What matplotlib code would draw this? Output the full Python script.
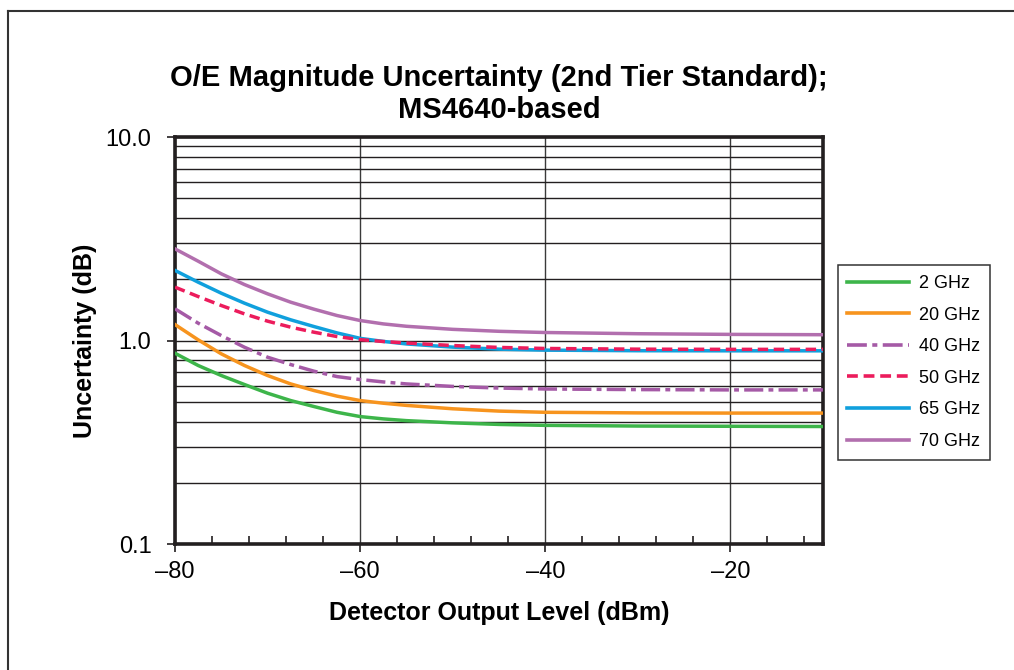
import matplotlib
matplotlib.use("Agg")
import matplotlib.pyplot as plt
from matplotlib.lines import Line2D
from matplotlib.ticker import LogLocator, NullFormatter, MultipleLocator

plt.rcParams["font.family"] = ["Liberation Sans", "DejaVu Sans"]

# Detector output level (dBm)
level = [-80, -77.5, -75, -72.5, -70, -67.5, -65, -62.5, -60, -57.5,
         -55, -50, -45, -40, -30, -20, -10]

# Uncertainty (dB)
u_2ghz = [0.866, 0.754, 0.673, 0.608, 0.551, 0.507, 0.474, 0.444, 0.423, 0.412,
          0.404, 0.394, 0.387, 0.383, 0.380, 0.379, 0.378]
u_20ghz = [1.198, 1.008, 0.860, 0.754, 0.673, 0.612, 0.568, 0.533, 0.507, 0.492,
           0.480, 0.462, 0.450, 0.444, 0.441, 0.440, 0.440]
u_40ghz = [1.431, 1.217, 1.058, 0.927, 0.828, 0.762, 0.707, 0.665, 0.643, 0.626,
           0.612, 0.595, 0.584, 0.578, 0.574, 0.572, 0.572]
u_50ghz = [1.829, 1.645, 1.486, 1.352, 1.245, 1.163, 1.099, 1.046, 1.010, 0.989,
           0.972, 0.945, 0.925, 0.914, 0.907, 0.905, 0.905]
u_65ghz = [2.21, 1.935, 1.708, 1.526, 1.378, 1.264, 1.172, 1.090, 1.025, 0.990,
           0.962, 0.928, 0.907, 0.897, 0.891, 0.890, 0.890]
u_70ghz = [2.82, 2.454, 2.127, 1.884, 1.696, 1.543, 1.426, 1.327, 1.254, 1.207,
           1.175, 1.135, 1.110, 1.095, 1.080, 1.072, 1.068]

labels = ["2 GHz", "20 GHz", "40 GHz", "50 GHz", "65 GHz", "70 GHz"]
x_ticks = [-80, -60, -40, -20]
x_tick_labels = ["\u201380", "\u201360", "\u201340", "\u201320"]
y_ticks = [0.1, 1.0, 10.0]
y_tick_labels = ["0.1", "1.0", "10.0"]

fig = plt.figure(figsize=(10.14, 6.70), dpi=100)
ax = fig.add_axes([0.1726, 0.188, 0.639, 0.6075])

lw = 2.5
kw = dict(lw=lw, solid_joinstyle="round", dash_joinstyle="round")
ax.plot(level, u_2ghz, color="#3DB54A", label=labels[0], zorder=3, **kw)
ax.plot(level, u_20ghz, color="#F7941E", label=labels[1], zorder=3, **kw)
ax.plot(level, u_40ghz, color="#A55AA6", ls=(0, (5.5, 1.5, 1.4, 1.5)),
        label=labels[2], zorder=3, **kw)
ax.plot(level, u_50ghz, color="#EC1C5C", ls=(0, (3.0, 1.6)),
        label=labels[3], zorder=5, **kw)
ax.plot(level, u_65ghz, color="#10A0DD", label=labels[4], zorder=4, **kw)
ax.plot(level, u_70ghz, color="#B26FAE", label=labels[5], zorder=3, **kw)

ax.set_yscale("log")
ax.set_xlim(-80, -10)
ax.set_ylim(0.1, 10)

ax.set_xticks(x_ticks)
ax.set_xticklabels(x_tick_labels)
ax.xaxis.set_minor_locator(MultipleLocator(4))
ax.set_yticks(y_ticks)
ax.set_yticklabels(y_tick_labels)
ax.yaxis.set_minor_locator(LogLocator(base=10, subs=range(2, 10)))
ax.yaxis.set_minor_formatter(NullFormatter())

ax.tick_params(axis="both", which="major", labelsize=17, direction="out",
               length=6, width=1.2, color="#231F20")
ax.tick_params(axis="x", which="major", pad=6)
ax.tick_params(axis="y", which="major", pad=11)
ax.tick_params(axis="x", which="minor", direction="in", length=6, width=1.2,
               color="#231F20")
ax.tick_params(axis="y", which="minor", length=0)

ax.grid(True, axis="y", which="both", color="#231F20", lw=1.0, zorder=1)
ax.grid(True, axis="x", which="major", color="#3a3a3a", lw=1.0, zorder=1)
for s in ax.spines.values():
    s.set_linewidth(2.6)
    s.set_color("#231F20")

ax.set_xlabel("Detector Output Level (dBm)", fontsize=18, fontweight="bold",
              labelpad=13)
ax.set_ylabel("Uncertainty (dB)", fontsize=18, fontweight="bold", labelpad=6)
ax.set_title("O/E Magnitude Uncertainty (2nd Tier Standard);\nMS4640-based",
             fontsize=21, fontweight="bold", pad=14, linespacing=1.15)

leg = ax.legend(loc="upper left", bbox_to_anchor=(0.826, 0.6045),
                bbox_transform=fig.transFigure, borderaxespad=0,
                fontsize=13, handlelength=3.4, handletextpad=0.55,
                labelspacing=0.81, borderpad=0.55, fancybox=False,
                framealpha=1, edgecolor="#333333")
leg.get_frame().set_linewidth(1.1)
for h in leg.get_lines():
    h.set_linewidth(2.6)

# outer frame (only top and left edges visible in the reference)
fig.add_artist(Line2D([8 / 1014, 1.0], [1 - 11 / 670, 1 - 11 / 670],
                      transform=fig.transFigure, color="#333333", lw=1.5))
fig.add_artist(Line2D([8 / 1014, 8 / 1014], [0.0, 1 - 11 / 670],
                      transform=fig.transFigure, color="#333333", lw=1.5))

fig.savefig("out.png", dpi=100)
